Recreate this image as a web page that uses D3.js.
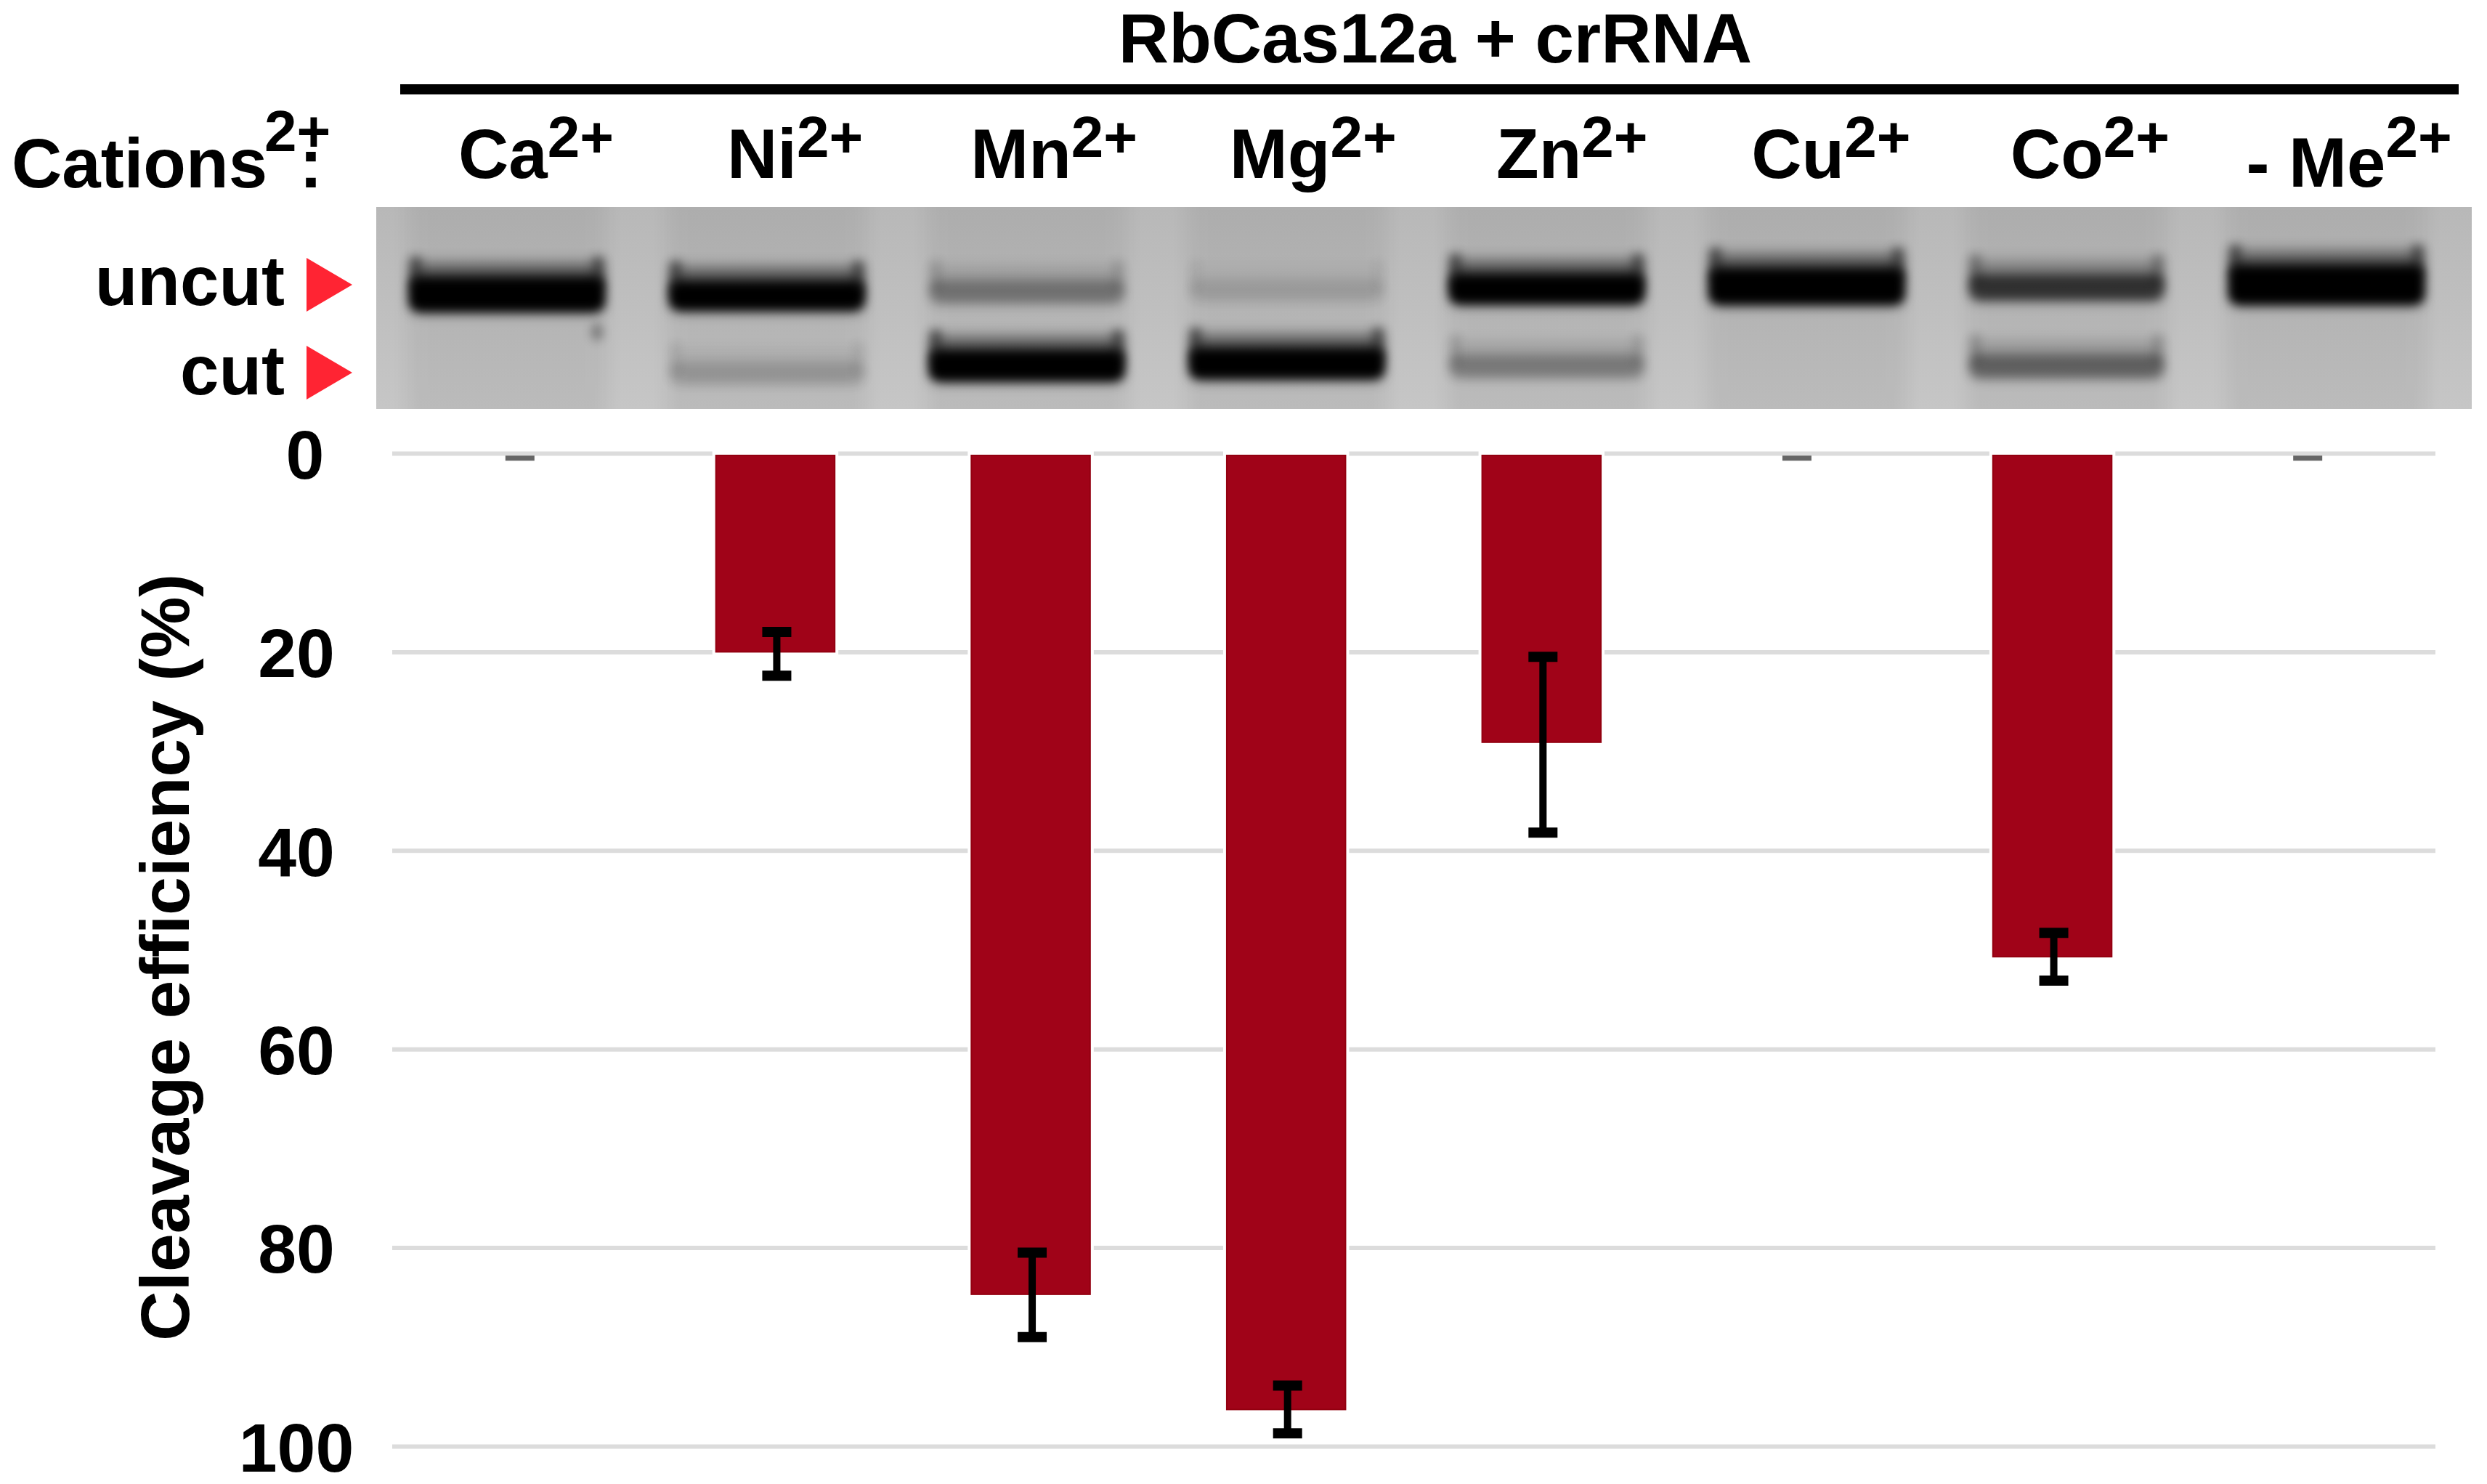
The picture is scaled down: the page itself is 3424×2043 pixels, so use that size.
<!DOCTYPE html>
<html>
<head>
<meta charset="utf-8">
<script src="https://d3js.org/d3.v7.min.js"></script>
<style>
  body { margin: 0; background: #fff; }
  svg { display: block; }
  text { font-family: "Liberation Sans", Arial, sans-serif; font-weight: bold; fill: #000; }
</style>
</head>
<body>
<svg width="3424" height="2043"></svg>
<script>
// values
var cations = ["Ca", "Ni", "Mn", "Mg", "Zn", "Cu", "Co", "- Me"]
var efficiency = [0, 20.0, 84.7, 96.3, 29.1, 0, 50.7, 0]
var errLow = [0.5, 18.0, 80.5, 93.9, 20.5, 0.5, 48.3, 0.5]
var errHigh = [0.5, 22.4, 89.0, 98.7, 38.2, 0.5, 53.1, 0.5]
var yTicks = [0, 20, 40, 60, 80, 100]

// gel: band darkness and how far the band ran (0 top of gel, 1 bottom)
var uncutSignal = [0.75, 0.45, 0.12, 0.04, 0.5, 0.85, 0.27, 1]
var cutSignal = [0, 0.06, 0.55, 0.55, 0.11, 0, 0.16, 0]
var uncutRun = [0.432, 0.439, 0.421, 0.414, 0.406, 0.392, 0.399, 0.385]
var cutRun = [0.79, 0.824, 0.785, 0.775, 0.79, 0.79, 0.79, 0.79]
var bandNames = ["uncut", "cut"]
var bandMarks = [0.385, 0.82]

var svg = d3.select("svg")
var defs = svg.append("defs")

var x = d3.scaleBand().domain(cations).range([540, 3353]).paddingInner(0.535).paddingOuter(0.2675)
var y = d3.scaleLinear().domain([0, 100]).range([624, 1991])
var laneX = d3.scaleBand().domain(cations).range([519, 3382]).paddingInner(0.23).paddingOuter(0.115)
var gelY = d3.scaleLinear().domain([0, 1]).range([285, 563])
var labelX = d3.scalePoint().domain(cations).range([738, 3234])
var opacityOf = d3.scaleLinear().domain([0, 0.45]).range([0, 1]).clamp(true)
var thickOf = d3.scaleLinear().domain([0, 1]).range([28, 54])

// blur filters for the gel
;[["blur7", 7], ["blur10", 10], ["blur12", 12]].forEach(function(f) {
  defs.append("filter").attr("id", f[0])
    .attr("filterUnits", "userSpaceOnUse")
    .attr("x", 400).attr("y", 200).attr("width", 3100).attr("height", 450)
    .append("feGaussianBlur").attr("stdDeviation", f[1])
})
defs.append("clipPath").attr("id", "gelClip")
  .append("rect").attr("x", 518).attr("y", 285).attr("width", 2885).attr("height", 278)
var shade = defs.append("linearGradient").attr("id", "gelShade")
  .attr("x1", 0).attr("y1", 0).attr("x2", 0).attr("y2", 1)
shade.append("stop").attr("offset", 0).attr("stop-color", "#b8b8b8")
shade.append("stop").attr("offset", 1).attr("stop-color", "#c6c6c6")

// top title and rule
svg.append("text").attr("x", 1976).attr("y", 86).attr("text-anchor", "middle")
  .style("font-size", "96px").text("RbCas12a + crRNA")
svg.append("line").attr("x1", 551).attr("x2", 3385).attr("y1", 123).attr("y2", 123)
  .attr("stroke", "#000").attr("stroke-width", 14)

// cation labels
var lab = svg.append("text").attr("x", 16).attr("y", 258).style("font-size", "96px")
lab.append("tspan").text("Cations")
lab.append("tspan").attr("dx", -4).attr("dy", -50).style("font-size", "80px").text("2+")
svg.append("text").attr("x", 412).attr("y", 258).style("font-size", "96px").text(":")

var heads = svg.selectAll(".cation").data(cations).join("text")
  .attr("class", "cation")
  .attr("x", function(d) { return labelX(d) })
  .attr("y", function(d) { return d == "- Me" ? 257 : 245 })
  .attr("text-anchor", "middle")
  .style("font-size", "96px")
heads.append("tspan").text(function(d) { return d })
heads.append("tspan")
  .attr("dy", function(d) { return d == "- Me" ? -41 : -29 })
  .style("font-size", "80px").text("2+")

// gel
var gel = svg.append("g").attr("clip-path", "url(#gelClip)")
gel.append("rect").attr("x", 518).attr("y", 285).attr("width", 2885).attr("height", 278)
  .attr("fill", "url(#gelShade)")
gel.selectAll(".lane").data(cations).join("rect")
  .attr("class", "lane")
  .attr("x", function(d) { return laneX(d) })
  .attr("width", laneX.bandwidth())
  .attr("y", 260).attr("height", 330)
  .attr("fill", "#000").attr("opacity", 0.05)
  .attr("filter", "url(#blur12)")

var bands = []
cations.forEach(function(c, i) {
  if (uncutSignal[i] > 0) bands.push({ lane: c, signal: uncutSignal[i], run: uncutRun[i] })
  if (cutSignal[i] > 0) bands.push({ lane: c, signal: cutSignal[i], run: cutRun[i] })
})

function bandTop(d) { return gelY(d.run) - thickOf(d.signal) / 2 }

// smear above each band
gel.selectAll(".smear").data(bands).join("rect")
  .attr("class", "smear")
  .attr("x", function(d) { return laneX(d.lane) + 8 })
  .attr("width", laneX.bandwidth() - 16)
  .attr("y", function(d) { return bandTop(d) - 18 })
  .attr("height", function(d) { return thickOf(d.signal) + 18 })
  .attr("fill", "#000")
  .attr("opacity", function(d) { return opacityOf(d.signal) * 0.55 })
  .attr("filter", "url(#blur10)")

// tails that run up both edges of a lane
var tails = []
bands.forEach(function(d) {
  tails.push({ band: d, side: 0 })
  tails.push({ band: d, side: 1 })
})
gel.selectAll(".tail").data(tails).join("rect")
  .attr("class", "tail")
  .attr("x", function(d) { return laneX(d.band.lane) + (d.side ? laneX.bandwidth() - 20 : 4) })
  .attr("width", 16)
  .attr("y", function(d) { return bandTop(d.band) - 28 })
  .attr("height", 42)
  .attr("fill", "#000")
  .attr("opacity", function(d) { return opacityOf(d.band.signal) * 0.5 })
  .attr("filter", "url(#blur7)")

// the band itself
gel.selectAll(".band").data(bands).join("rect")
  .attr("class", "band")
  .attr("x", function(d) { return laneX(d.lane) + 3 })
  .attr("width", laneX.bandwidth() - 6)
  .attr("y", bandTop)
  .attr("height", function(d) { return thickOf(d.signal) })
  .attr("rx", 14)
  .attr("fill", "#000")
  .attr("opacity", function(d) { return opacityOf(d.signal) })
  .attr("filter", "url(#blur7)")

// speck under first lane
gel.append("ellipse").attr("cx", 822).attr("cy", 457).attr("rx", 8).attr("ry", 12)
  .attr("fill", "#000").attr("opacity", 0.35).attr("filter", "url(#blur7)")

// uncut / cut labels with red arrows
svg.selectAll(".bandName").data(bandNames).join("text")
  .attr("class", "bandName")
  .attr("x", 392)
  .attr("y", function(d, i) { return gelY(bandMarks[i]) + (i == 0 ? 28 : 30) })
  .attr("text-anchor", "end")
  .style("font-size", "96px")
  .text(function(d) { return d })
svg.selectAll(".arrow").data(bandMarks).join("path")
  .attr("class", "arrow")
  .attr("d", function(d) {
    var c = gelY(d)
    return d3.line()([[422, c - 37], [485, c], [422, c + 37]]) + "Z"
  })
  .attr("fill", "#ff2433")

// axis with the grid lines
var axis = svg.append("g").attr("transform", "translate(540,0)")
  .call(d3.axisLeft(y).tickValues(yTicks).tickSize(-(3353 - 540)).tickFormat(d3.format("d")))
axis.select(".domain").remove()
axis.selectAll(".tick line").attr("stroke", "#dcdcdc").attr("stroke-width", 6)
axis.selectAll(".tick text")
  .attr("x", function(d) { return d == 0 ? -120 : -132 })
  .attr("text-anchor", "middle")
  .attr("dy", "0.36em")
  .style("font-size", "95px")
  .style("font-family", "'Liberation Sans', Arial, sans-serif")

var rows = cations.map(function(c, i) {
  return { name: c, value: efficiency[i], low: errLow[i], high: errHigh[i] }
})
var barRows = rows.filter(function(d) { return d.value > 0 })

// white halo that breaks the grid lines next to a bar
svg.selectAll(".halo").data(barRows).join("rect")
  .attr("class", "halo")
  .attr("x", function(d) { return x(d.name) - 5 })
  .attr("width", x.bandwidth() + 10)
  .attr("y", y(0) - 6)
  .attr("height", function(d) { return y(d.value) - y(0) + 12 })
  .attr("fill", "#fff")

svg.selectAll(".bar").data(barRows).join("rect")
  .attr("class", "bar")
  .attr("x", function(d) { return x(d.name) })
  .attr("width", x.bandwidth())
  .attr("y", y(0) + 3)
  .attr("height", function(d) { return y(d.value) - y(0) - 3 })
  .attr("fill", "#a00318")
  .attr("stroke", "#930010")
  .attr("stroke-width", 2)

// error bars
svg.selectAll(".stem").data(barRows).join("line")
  .attr("class", "stem")
  .attr("x1", function(d) { return x(d.name) + x.bandwidth() / 2 + 2 })
  .attr("x2", function(d) { return x(d.name) + x.bandwidth() / 2 + 2 })
  .attr("y1", function(d) { return y(d.low) })
  .attr("y2", function(d) { return y(d.high) })
  .attr("stroke", "#000").attr("stroke-width", 10)

var caps = []
rows.forEach(function(d) {
  caps.push({ name: d.name, at: d.low, zero: d.value == 0 })
  if (d.value > 0) caps.push({ name: d.name, at: d.high, zero: false })
})
svg.selectAll(".cap").data(caps).join("line")
  .attr("class", "cap")
  .attr("x1", function(d) { return x(d.name) + x.bandwidth() / 2 + (d.zero ? 0 : 2) - 20 })
  .attr("x2", function(d) { return x(d.name) + x.bandwidth() / 2 + (d.zero ? 0 : 2) + 20 })
  .attr("y1", function(d) { return y(d.at) })
  .attr("y2", function(d) { return y(d.at) })
  .attr("stroke", function(d) { return d.zero ? "#666" : "#000" })
  .attr("stroke-width", function(d) { return d.zero ? 7 : 14 })

// y title
svg.append("text")
  .attr("transform", "translate(260,1318) rotate(-90)")
  .attr("text-anchor", "middle")
  .style("font-size", "95px")
  .text("Cleavage efficiency (%)")
</script>
</body>
</html>
